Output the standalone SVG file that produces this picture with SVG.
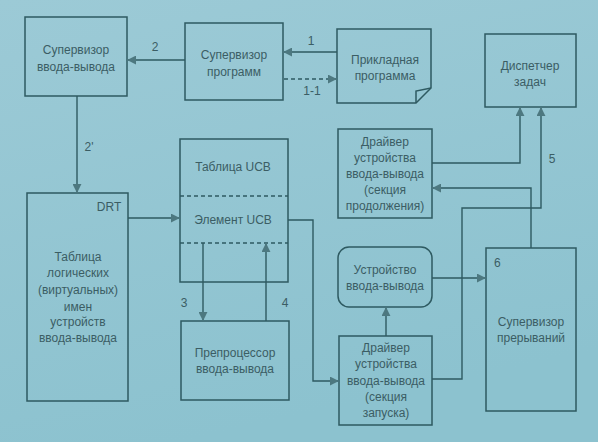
<svg xmlns="http://www.w3.org/2000/svg" width="598" height="442" viewBox="0 0 598 442">
<defs>
<linearGradient id="bg" x1="0" y1="0" x2="0.3" y2="1">
<stop offset="0" stop-color="#9ccad6"/>
<stop offset="1" stop-color="#8cc2cf"/>
</linearGradient>
<marker id="ah" viewBox="0 0 10 10" refX="9" refY="5" markerWidth="9" markerHeight="9" markerUnits="userSpaceOnUse" orient="auto">
<path d="M0,0 L10,5 L0,10 Z" fill="#4d7880"/>
</marker>
<style>
.b{fill:none;stroke:#2e5a61;stroke-width:1.5}
.c{fill:none;stroke:#2e5a61;stroke-width:1.4;marker-end:url(#ah)}
.d{stroke-dasharray:4 3}
text{font-family:"Liberation Sans",Arial,sans-serif;font-size:12px;fill:#3b5d64;text-anchor:middle}
.l{text-anchor:start}
</style>
</defs>
<rect width="598" height="442" fill="url(#bg)"/>
<g id="io-supervisor"><rect class="b" x="25" y="17" width="102" height="79"/><text x="76" y="54">Супервизор</text><text x="76" y="71">ввода-вывода</text></g>
<g id="prog-supervisor"><rect class="b" x="185" y="23" width="98" height="77"/><text x="234" y="59">Супервизор</text><text x="234" y="76">программ</text></g>
<g id="app"><path class="b" d="M337,29 H431 V88 L416,103 H337 Z"/><path class="b" d="M416,103 V91 L431,88" /><text x="385" y="64">Прикладная</text><text x="385" y="80">программа</text></g>
<g id="dispatcher"><rect class="b" x="485" y="34" width="91" height="73"/><text x="530" y="70">Диспетчер</text><text x="530" y="86">задач</text></g>
<g id="driver-cont"><rect class="b" x="338" y="129" width="94" height="89"/><text x="385" y="146">Драйвер</text><text x="385" y="162">устройства</text><text x="385" y="178">ввода-вывода</text><text x="385" y="194">(секция</text><text x="385" y="210">продолжения)</text></g>
<g id="drt"><rect class="b" x="27" y="193" width="101" height="208"/><text x="109" y="211">DRT</text><text x="78" y="261">Таблица</text><text x="78" y="277">логических</text><text x="78" y="294">(виртуальных)</text><text x="78" y="311">имен</text><text x="78" y="326">устройств</text><text x="78" y="342">ввода-вывода</text></g>
<g id="ucb"><rect class="b" x="180" y="139" width="108" height="143"/><line class="b d" x1="180" y1="196" x2="288" y2="196"/><line class="b d" x1="180" y1="243" x2="288" y2="243"/><text x="233" y="171">Таблица UCB</text><text x="233" y="224">Элемент UCB</text></g>
<g id="preproc"><rect class="b" x="181" y="321" width="108" height="79"/><text x="235" y="357">Препроцессор</text><text x="235" y="373">ввода-вывода</text></g>
<g id="device"><rect class="b" x="338" y="247" width="94" height="60" rx="11"/><text x="385" y="274">Устройство</text><text x="385" y="290">ввода-вывода</text></g>
<g id="driver-start"><rect class="b" x="339" y="336" width="93" height="89"/><text x="386" y="352">Драйвер</text><text x="386" y="368">устройства</text><text x="386" y="385">ввода-вывода</text><text x="386" y="401">(секция</text><text x="386" y="417">запуска)</text></g>
<g id="int-supervisor"><rect class="b" x="486" y="248" width="90" height="163"/><text class="l" x="494" y="267">6</text><text x="531" y="326">Супервизор</text><text x="531" y="342">прерываний</text></g>
<g id="connectors">
<line class="c" x1="337" y1="52" x2="284" y2="52"/>
<line class="c d" x1="284" y1="79" x2="336" y2="79"/>
<line class="c" x1="185" y1="60" x2="128" y2="60"/>
<line class="c" x1="77" y1="96" x2="77" y2="192"/>
<line class="c" x1="128" y1="218" x2="179" y2="218"/>
<line class="c" x1="203" y1="243" x2="203" y2="320"/>
<line class="c" x1="266" y1="321" x2="266" y2="244"/>
<polyline class="c" points="288,220 313,220 313,381 338,381"/>
<line class="c" x1="386" y1="336" x2="386" y2="308"/>
<line class="c" x1="432" y1="278" x2="485" y2="278"/>
<polyline class="c" points="432,379 462,379 462,208 541,208 541,108"/>
<polyline class="c" points="432,163 520,163 520,108"/>
<polyline class="c" points="531,248 531,188 433,188"/>
<text x="311" y="45">1</text>
<text x="312" y="95">1-1</text>
<text x="155" y="51">2</text>
<text x="89" y="151">2'</text>
<text x="184" y="307">3</text>
<text x="285" y="307">4</text>
<text x="552" y="163">5</text>
</g>
</svg>
